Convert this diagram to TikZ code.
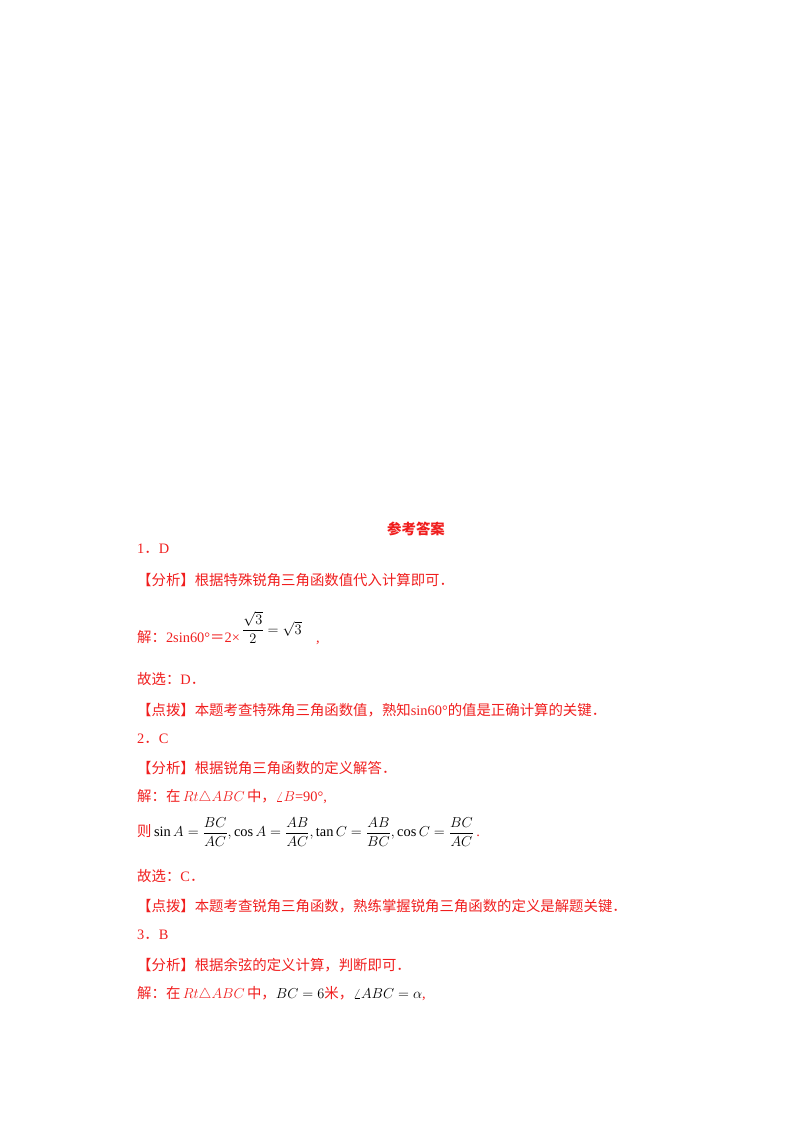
\documentclass[tikz,border=0pt]{standalone}
\usepackage{amsmath}
\usepackage{fontspec}
\setmainfont{Liberation Serif}
\newfontfamily\cjk{Noto Sans CJK SC}
\newcommand{\zh}[1]{{\cjk #1}}
\definecolor{ansred}{RGB}{240,30,30}
\begin{document}
\begin{tikzpicture}[x=1pt,y=-1pt,
  ln/.style={anchor=west,inner sep=0pt,text=ansred,font=\fontsize{14.4}{16}\selectfont}]
\useasboundingbox (0,0) rectangle (800,1132);
\node[ln,anchor=center] (title) at (416,529) {\zh{\bfseries 参考答案}};
\node[ln] (a1) at (137,549) {1\zh{．}D};
\node[ln] (f1) at (137,580) {\zh{【分析】根据特殊锐角三角函数值代入计算即可．}};
\node[ln] (j1) at (137,628) {\zh{解：}2sin60°\zh{＝}2×\,\raisebox{1.3ex}{\color{black}$\dfrac{\sqrt3}{2}=\sqrt3$}\quad ,};
\node[ln] (g1) at (137,679) {\zh{故选：}D\zh{．}};
\node[ln] (d1) at (137,710) {\zh{【点拨】本题考查特殊角三角函数值，熟知}sin60°\zh{的值是正确计算的关键．}};
\node[ln] (a2) at (137,739) {2\zh{．}C};
\node[ln] (f2) at (137,768) {\zh{【分析】根据锐角三角函数的定义解答．}};
\node[ln] (j2) at (137,797) {\zh{解：在}\,$Rt\triangle ABC$\,\zh{中，}$\angle B$=90°,};
\node[ln] (z2) at (137,832) {\zh{则}\,{\color{black}$\sin A=\dfrac{BC}{AC},\cos A=\dfrac{AB}{AC},\tan C=\dfrac{AB}{BC},\cos C=\dfrac{BC}{AC}$}\,.};
\node[ln] (g2) at (137,876) {\zh{故选：}C\zh{．}};
\node[ln] (d2) at (137,906) {\zh{【点拨】本题考查锐角三角函数，熟练掌握锐角三角函数的定义是解题关键．}};
\node[ln] (a3) at (137,935) {3\zh{．}B};
\node[ln] (f3) at (137,965) {\zh{【分析】根据余弦的定义计算，判断即可．}};
\node[ln] (j3) at (137,994) {\zh{解：在}\,$Rt\triangle ABC$\,\zh{中，}{\color{black}$BC=6$}\zh{米，}{\color{black}$\angle ABC=\alpha$},};
\end{tikzpicture}
\end{document}
